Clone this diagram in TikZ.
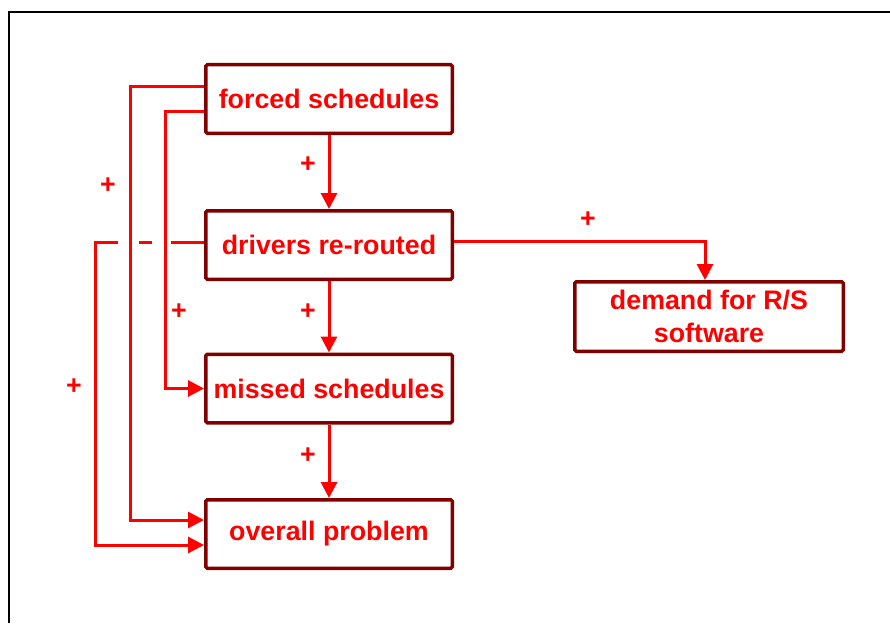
\documentclass[tikz,border=0pt]{standalone}
\usepackage{fontspec}
\setmainfont{Liberation Sans}
\usetikzlibrary{arrows.meta}
\definecolor{boxred}{RGB}{128,0,0}
\tikzset{
    box/.style={draw=boxred,line width=3.5pt,fill=white,rounded corners=1.5pt,inner sep=0pt,
        minimum width=246.5pt,minimum height=68.5pt,text=red,align=center,
        font=\fontsize{26.8}{33}\selectfont\bfseries},
    plus/.style={text=red,inner sep=0pt,font=\fontsize{26.8}{30}\selectfont\bfseries},
    arr/.style={draw=red,line width=3pt,-{Triangle[length=16pt,width=16pt]}}
}
\begin{document}
\begin{tikzpicture}[x=1pt,y=-1pt]
    \useasboundingbox (0,0) rectangle (890,623);
    \draw[line width=2.2pt] (9,623) -- (9,12) -- (890,12);
        \node[box] at (329,99) (forced) {forced schedules};
        \node[box] at (329,245) (drivers) {drivers re-routed};
        \node[box] at (329,388.5) (missed) {missed schedules};
        \node[box] at (329,534) (overall) {overall problem};
        \node[box,minimum width=268.5pt,minimum height=69.5pt] at (709,316.5) (demand) {demand for R/S\\software};
    \draw[arr] (forced) -- (drivers);
    \draw[arr] (drivers) -- (missed);
    \draw[arr] (missed) -- (overall);
    \draw[arr] ([yshift=4pt]drivers.east) -| ([xshift=-4pt]demand.north);
    \draw[arr] ([yshift=12pt]forced.west) -- ++(-74,0) |- ([yshift=14pt]overall.west);
    \draw[arr] ([yshift=-12pt]forced.west) -- ++(-39,0) |- (missed.west);
    \draw[arr,dash pattern=on 33pt off 19pt on 13pt off 21pt on 900pt] ([yshift=3pt]drivers.west) -- ++(-109,0) |- ([yshift=-11pt]overall.west);
        \node[plus] at (308,165) (p1) {+};
        \node[plus] at (308,312) (p2) {+};
        \node[plus] at (308,456) (p3) {+};
        \node[plus] at (588,220) (p4) {+};
        \node[plus] at (108,186) (p5) {+};
        \node[plus] at (179,312) (p6) {+};
        \node[plus] at (74,387) (p7) {+};
\end{tikzpicture}
\end{document}
